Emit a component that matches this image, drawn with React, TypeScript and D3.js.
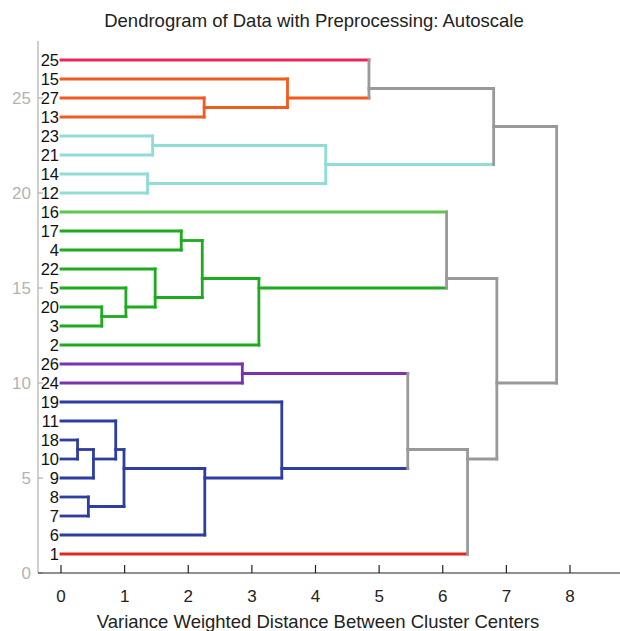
import React from 'react'
import * as d3 from 'd3'

// leaves listed top to bottom, as drawn
const leafOrder = ['25', '15', '27', '13', '23', '21', '14', '12', '16', '17', '4', '22', '5', '20', '3', '2', '26', '24', '19', '11', '18', '10', '9', '8', '7', '6', '1']

// cluster membership of each leaf
const groupLeaves: { [g: string]: string[] } = {
  pink: ['25'],
  orange: ['15', '27', '13'],
  cyan: ['23', '21', '14', '12'],
  lime: ['16'],
  green: ['17', '4', '22', '5', '20', '3', '2'],
  purple: ['26', '24'],
  blue: ['19', '11', '18', '10', '9', '8', '7', '6'],
  red: ['1'],
}

// linkage: [id, left child, right child, distance]
const merges: [string, string, string, number][] = [
  ['m1', '18', '10', 0.26],
  ['m2', 'm1', '9', 0.51],
  ['m3', '11', 'm2', 0.86],
  ['m4', '8', '7', 0.43],
  ['m5', 'm3', 'm4', 0.99],
  ['m6', 'm5', '6', 2.26],
  ['m7', '19', 'm6', 3.47],
  ['m8', '26', '24', 2.85],
  ['m9', 'm8', 'm7', 5.45],
  ['m10', 'm9', '1', 6.39],
  ['m11', '20', '3', 0.64],
  ['m12', '5', 'm11', 1.02],
  ['m13', '22', 'm12', 1.48],
  ['m14', '17', '4', 1.89],
  ['m15', 'm14', 'm13', 2.22],
  ['m16', 'm15', '2', 3.11],
  ['m17', '16', 'm16', 6.06],
  ['m18', '23', '21', 1.44],
  ['m19', '14', '12', 1.36],
  ['m20', 'm18', 'm19', 4.16],
  ['m21', '27', '13', 2.25],
  ['m22', '15', 'm21', 3.56],
  ['m23', '25', 'm22', 4.84],
  ['m24', 'm23', 'm20', 6.80],
  ['m25', 'm17', 'm10', 6.85],
  ['m26', 'm24', 'm25', 7.79],
]

const xTicks = [0, 1, 2, 3, 4, 5, 6, 7, 8]
const yTicks = [0, 5, 10, 15, 20, 25]

const colors: { [g: string]: string } = {
  pink: '#e8265c',
  orange: '#f25a1e',
  cyan: '#8fddd6',
  lime: '#5ac84a',
  green: '#1faa1f',
  purple: '#7a32b0',
  blue: '#2d3ea0',
  red: '#e0281e',
}
const gray = '#999999'
const font = '"Liberation Sans", Arial, Helvetica, sans-serif'

export default function App() {
  const width = 620, height = 631
  const x = d3.scaleLinear().domain([0, 8]).range([61, 570])
  const y = d3.scaleLinear().domain([0, 28]).range([573, 41])
  const n = leafOrder.length

  // node info: y position (mean of leaf positions), height, leaves, colour
  const nodes: { [id: string]: { pos: number; h: number; leaves: string[]; color: string } } = {}
  const groupOf: { [leaf: string]: string } = {}
  Object.keys(groupLeaves).forEach(g => groupLeaves[g].forEach(l => (groupOf[l] = g)))
  leafOrder.forEach((l, i) => {
    nodes[l] = { pos: n - i, h: 0, leaves: [l], color: colors[groupOf[l]] }
  })
  merges.forEach(([id, a, b, h]) => {
    const leaves = nodes[a].leaves.concat(nodes[b].leaves)
    const gs = new Set(leaves.map(l => groupOf[l]))
    nodes[id] = {
      pos: d3.mean(leaves, l => nodes[l].pos) as number,
      h,
      leaves,
      color: gs.size === 1 ? colors[groupOf[leaves[0]]] : gray,
    }
  })

  const arms: JSX.Element[] = []
  const verts: JSX.Element[] = []
  merges.forEach(([id, a, b, h]) => {
    ;[a, b].forEach(c => {
      const nd = nodes[c]
      arms.push(
        <line key={id + c} x1={x(nd.h)} x2={x(h)} y1={y(nd.pos)} y2={y(nd.pos)}
          stroke={nd.color} strokeWidth={2.8} strokeLinecap="square" />
      )
    })
    verts.push(
      <line key={id + 'v'} x1={x(h)} x2={x(h)} y1={y(nodes[a].pos)} y2={y(nodes[b].pos)}
        stroke={nodes[id].color} strokeWidth={2.8} strokeLinecap="square" />
    )
  })

  return (
    <svg width={width} height={height} style={{ position: 'absolute', left: 0, top: 0 }}
      fontFamily={font}>
      <rect width={width} height={height} fill="#fff" />
      <text x={314} y={27} textAnchor="middle" fontSize={18.5} fill="#222">
        Dendrogram of Data with Preprocessing: Autoscale
      </text>

      {/* y axis */}
      <line x1={38} x2={38} y1={y(28)} y2={y(0)} stroke="#b0b0b0" strokeWidth={1.2} />
      {yTicks.map(t => (
        <g key={t}>
          <line x1={38} x2={43} y1={y(t)} y2={y(t)} stroke="#b0b0b0" strokeWidth={1.2} />
          <text x={31} y={y(t)} dy="0.36em" textAnchor="end" fontSize={17} fill="#b3b3b3">{t}</text>
        </g>
      ))}

      {/* x axis */}
      <line x1={38} x2={620} y1={y(0)} y2={y(0)} stroke="#222" strokeWidth={1.2} />
      {xTicks.map(t => (
        <g key={t}>
          <line x1={x(t)} x2={x(t)} y1={y(0)} y2={y(0) - 8} stroke="#222" strokeWidth={1.2} />
          <text x={x(t)} y={602} textAnchor="middle" fontSize={17} fill="#222">{t}</text>
        </g>
      ))}
      <text x={318} y={628} textAnchor="middle" fontSize={18.5} fill="#222">
        Variance Weighted Distance Between Cluster Centers
      </text>

      {/* leaf labels */}
      {leafOrder.map(l => (
        <text key={l} x={59} y={y(nodes[l].pos)} dy="0.36em" textAnchor="end" fontSize={16.5} fill="#111">{l}</text>
      ))}

      {arms}
      {verts}
    </svg>
  )
}
